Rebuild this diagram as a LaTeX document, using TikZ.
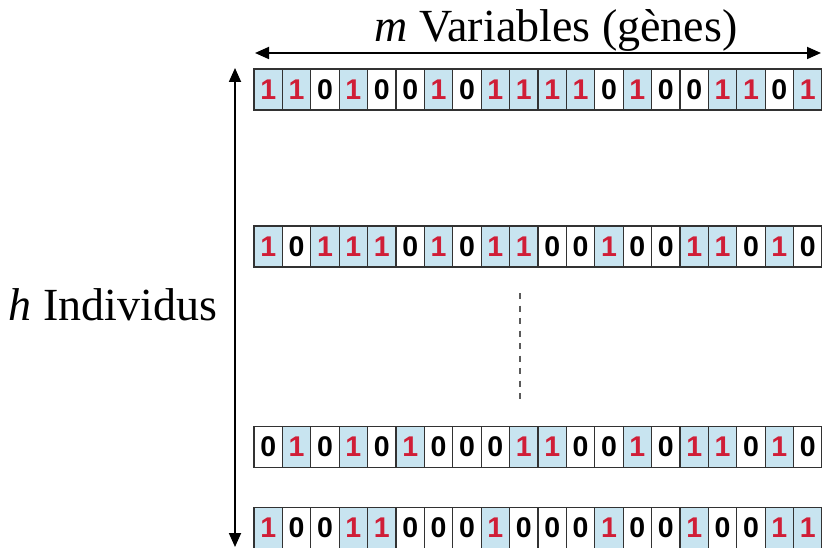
\documentclass[tikz,border=0pt]{standalone}
\usepackage{fontspec}
\setmainfont{Liberation Serif}
\newfontfamily\digitfont{Liberation Sans}
\usetikzlibrary{arrows.meta}
\definecolor{cellblue}{RGB}{200,228,240}
\definecolor{onered}{RGB}{208,30,55}
\definecolor{cellline}{RGB}{50,50,50}
\definecolor{dashgray}{RGB}{90,90,90}
\begin{document}
\begin{tikzpicture}[x=1pt,y=-1pt,
  bitcell/.style={draw=cellline, line width=1.3pt, minimum width=28.4pt,
    minimum height=41pt, inner sep=0pt, text depth=0pt,
    font=\digitfont\bfseries\fontsize{28.5}{28.5}\selectfont, anchor=center},
  bit1/.style={bitcell, fill=cellblue, text=onered},
  bit0/.style={bitcell, fill=white, text=black},
  axisarrow/.style={line width=1.8pt,
    {Triangle[length=14pt,width=12pt]}-{Triangle[length=14pt,width=12pt]}},
  lbl/.style={font=\fontsize{46}{50}\selectfont, inner sep=0pt, anchor=base}]
\useasboundingbox (0,0) rectangle (822,548);
\def\rowA{1,1,0,1,0,0,1,0,1,1,1,1,0,1,0,0,1,1,0,1}
\def\rowB{1,0,1,1,1,0,1,0,1,1,0,0,1,0,0,1,1,0,1,0}
\def\rowC{0,1,0,1,0,1,0,0,0,1,1,0,0,1,0,1,1,0,1,0}
\def\rowD{1,0,0,1,1,0,0,0,1,0,0,0,1,0,0,1,0,0,1,1}
\foreach \b [count=\i] in \rowA {\node[bit\b] (ra\i) at ({254+28.4*(\i-0.5)},89.5) {\b};}
\foreach \b [count=\i] in \rowB {\node[bit\b] (rb\i) at ({254+28.4*(\i-0.5)},246.5) {\b};}
\foreach \b [count=\i] in \rowC {\node[bit\b] (rc\i) at ({254+28.4*(\i-0.5)},447) {\b};}
\foreach \b [count=\i] in \rowD {\node[bit\b] (rd\i) at ({254+28.4*(\i-0.5)},528) {\b};}
% labels
\node[lbl] (mlab) at (556,42) {\textit{m} Variables (gènes)};
\node[lbl] (hlab) at (113,320) {\textit{h} Individus};
% arrows
\coordinate (hl) at (255,53);
\coordinate (hr) at (821,53);
\coordinate (vt) at (235,68);
\coordinate (vb) at (235,547);
\draw[axisarrow] (hl) -- (hr);
\draw[axisarrow] (vt) -- (vb);
% dashed ellipsis
\coordinate (dtop) at (520,293);
\coordinate (dbot) at (520,405);
\draw[dashgray, line width=2pt, dash pattern=on 6pt off 6.5pt] (dtop) -- (dbot);
\end{tikzpicture}
\end{document}
